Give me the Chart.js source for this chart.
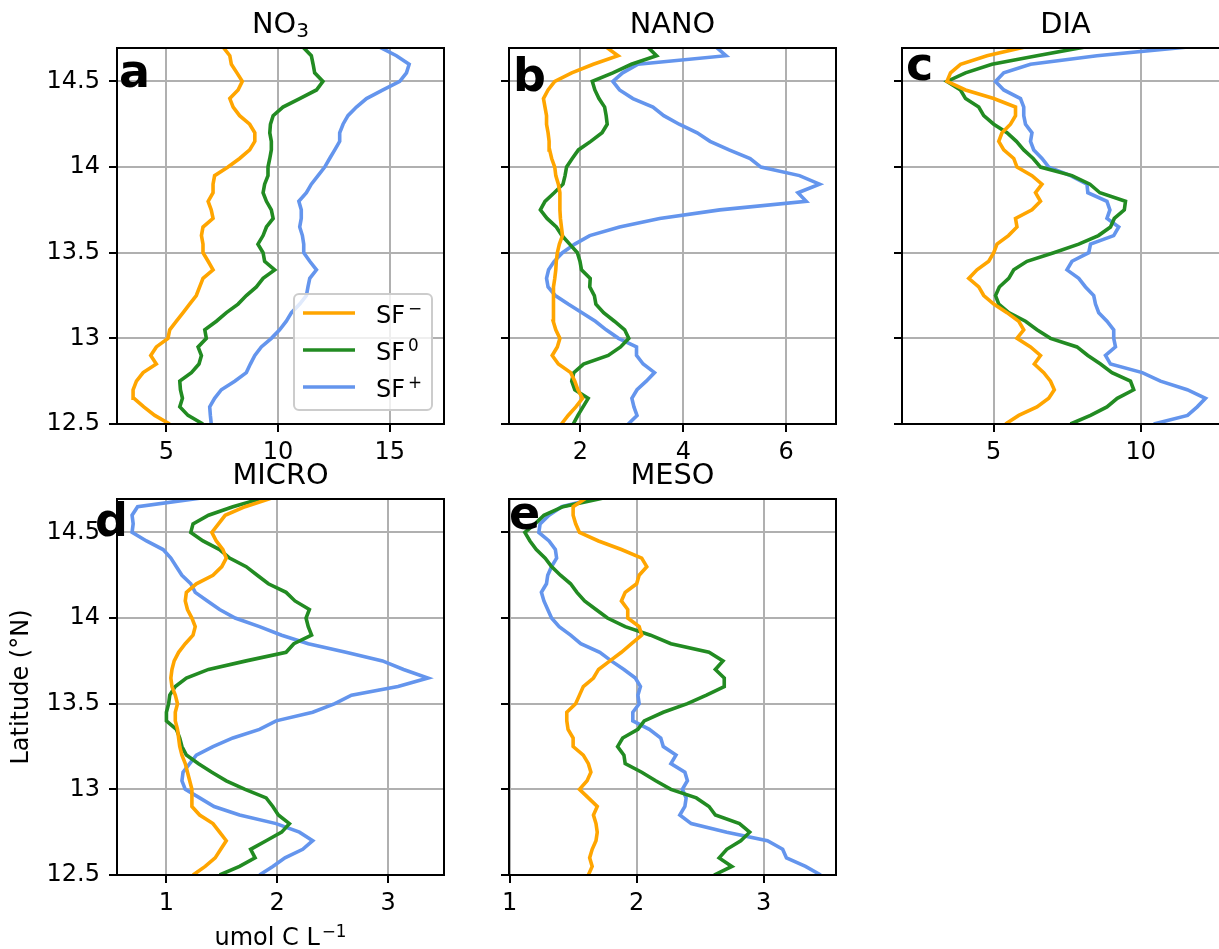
<!DOCTYPE html>
<html>
<head>
<meta charset="utf-8">
<title>Latitude profiles</title>
<script src="https://cdn.jsdelivr.net/npm/chart.js@4.4.0/dist/chart.umd.min.js"></script>
<style>
  html, body { margin: 0; padding: 0; background: #fff; overflow: hidden; }
  #fig { position: relative; width: 1219px; height: 949px; overflow: hidden; }
  .panel { position: absolute; width: 480px; height: 500px; }
</style>
</head>
<body>
<div id="fig">
  <div class="panel" style="left:0;top:0"><canvas id="pa" width="480" height="500"></canvas></div>
  <div class="panel" style="left:392px;top:0"><canvas id="pb" width="480" height="500"></canvas></div>
  <div class="panel" style="left:785px;top:0"><canvas id="pc" width="480" height="500"></canvas></div>
  <div class="panel" style="left:0;top:451px"><canvas id="pd" width="480" height="500"></canvas></div>
  <div class="panel" style="left:392px;top:451px"><canvas id="pe" width="480" height="500"></canvas></div>
</div>
<script>
/* ============================
   DATA
============================ */
const latitude = [12.50, 12.55, 12.60, 12.65, 12.70, 12.75, 12.80, 12.85, 12.90, 12.95,
                  13.00, 13.05, 13.10, 13.15, 13.20, 13.25, 13.30, 13.35, 13.40, 13.45,
                  13.50, 13.55, 13.60, 13.65, 13.70, 13.75, 13.80, 13.85, 13.90, 13.95,
                  14.00, 14.05, 14.10, 14.15, 14.20, 14.25, 14.30, 14.35, 14.40, 14.45,
                  14.50, 14.55, 14.60, 14.65, 14.70];

const scenarioBase = 'SF';
const scenarioSup = ['\u2212', '0', '+'];
const scenarioColors = ['#ffa500', '#228b22', '#6495ed'];

// NO3
const no3Minus = [5.15, 4.48, 3.99, 3.55, 3.51, 3.66, 3.96, 4.55, 4.30, 4.55,
                  5.07, 5.15, 5.45, 5.75, 6.04, 6.34, 6.49, 6.64, 7.09, 6.87,
                  6.64, 6.64, 6.57, 6.64, 7.09, 7.01, 6.87, 7.09, 7.09, 7.16,
                  7.76, 8.28, 8.73, 8.96, 8.96, 8.73, 8.28, 7.99, 7.84, 8.21,
                  8.40, 8.16, 7.91, 7.84, 7.54];
const no3Zero = [6.64, 5.97, 5.60, 5.72, 5.63, 5.60, 6.12, 6.46, 6.57, 6.42,
                 6.79, 6.72, 7.24, 7.69, 8.21, 8.58, 9.03, 9.33, 9.85, 9.40,
                 9.33, 9.10, 9.33, 9.48, 9.78, 9.70, 9.48, 9.33, 9.40, 9.55,
                 9.55, 9.63, 9.70, 9.70, 9.63, 9.66, 9.78, 10.22, 10.97, 11.72,
                 12.01, 11.64, 11.57, 11.49, 11.12];
const no3Plus = [7.01, 6.97, 6.94, 7.16, 7.46, 8.06, 8.58, 8.76, 8.96, 9.25,
                 9.70, 10.07, 10.37, 10.60, 10.97, 11.27, 11.34, 11.42, 11.72, 11.42,
                 11.15, 11.15, 11.09, 10.97, 11.04, 11.04, 10.93, 11.27, 11.49, 11.79,
                 12.09, 12.31, 12.54, 12.76, 12.76, 12.91, 13.13, 13.51, 13.96, 14.70,
                 15.45, 15.75, 15.87, 15.30, 14.55];

// NANO
const nanoMinus = [1.63, 1.76, 1.91, 2.04, 1.95, 1.89, 1.81, 1.57, 1.45, 1.55,
                   1.60, 1.52, 1.47, 1.47, 1.47, 1.48, 1.48, 1.50, 1.52, 1.53,
                   1.55, 1.59, 1.65, 1.63, 1.61, 1.60, 1.60, 1.60, 1.57, 1.52,
                   1.50, 1.44, 1.40, 1.39, 1.37, 1.34, 1.34, 1.31, 1.28, 1.37,
                   1.50, 1.83, 2.25, 2.73, 2.50];
const nanoZero = [1.86, 1.95, 2.05, 2.15, 1.89, 1.83, 1.87, 2.06, 2.54, 2.78,
                  2.94, 2.86, 2.66, 2.45, 2.30, 2.27, 2.18, 2.19, 2.02, 1.99,
                  1.94, 1.79, 1.64, 1.53, 1.35, 1.22, 1.31, 1.49, 1.66, 1.70,
                  1.73, 1.84, 1.96, 2.20, 2.42, 2.52, 2.50, 2.47, 2.36, 2.28,
                  2.23, 2.63, 2.99, 3.48, 3.31];
const nanoPlus = [2.93, 3.10, 3.04, 3.00, 3.10, 3.28, 3.44, 3.22, 3.09, 3.09,
                  2.74, 2.50, 2.29, 2.03, 1.76, 1.51, 1.37, 1.34, 1.38, 1.49,
                  1.65, 1.89, 2.18, 2.76, 3.54, 4.71, 6.39, 6.23, 6.65, 6.26,
                  5.51, 5.30, 4.89, 4.52, 4.27, 3.92, 3.62, 3.41, 3.02, 2.76,
                  2.63, 2.82, 3.12, 4.83, 4.64];

// DIA
const diaMinus = [5.40, 5.85, 6.47, 6.87, 7.06, 6.93, 6.70, 6.38, 6.59, 6.25,
                  5.79, 6.02, 5.85, 5.45, 5.00, 4.66, 4.49, 4.15, 4.43, 4.83,
                  5.00, 5.11, 5.50, 5.79, 5.74, 6.30, 6.59, 6.42, 6.64, 6.30,
                  5.79, 5.68, 5.34, 5.17, 5.28, 5.57, 5.74, 5.74, 5.00, 4.04,
                  3.41, 3.53, 3.87, 4.77, 6.02];
const diaZero = [7.61, 8.29, 8.85, 9.20, 9.76, 9.65, 9.02, 8.63, 8.20, 7.83,
                 6.93, 6.47, 6.08, 5.51, 5.17, 5.06, 5.19, 5.51, 5.68, 6.13,
                 7.04, 7.89, 8.56, 8.97, 9.10, 9.44, 9.48, 8.61, 8.27, 7.66,
                 6.59, 6.34, 6.02, 5.77, 5.45, 5.00, 4.66, 4.49, 4.04, 3.87,
                 3.41, 4.04, 4.94, 6.47, 8.06];
const diaPlus = [10.44, 11.59, 11.92, 12.20, 11.58, 10.67, 10.05, 8.97, 8.80, 9.14,
                 9.08, 9.08, 8.85, 8.57, 8.46, 8.40, 8.12, 7.89, 7.49, 7.66,
                 8.23, 8.29, 9.08, 9.25, 8.85, 8.95, 8.85, 8.20, 8.17, 7.61,
                 6.87, 6.64, 6.36, 6.25, 6.30, 6.08, 6.02, 6.02, 5.91, 5.34,
                 5.06, 5.34, 6.25, 8.51, 11.52];

// MICRO
const microMinus = [1.24, 1.35, 1.44, 1.49, 1.54, 1.48, 1.42, 1.30, 1.23, 1.23,
                    1.23, 1.21, 1.19, 1.17, 1.14, 1.12, 1.11, 1.10, 1.08, 1.08,
                    1.10, 1.08, 1.05, 1.04, 1.05, 1.07, 1.11, 1.17, 1.24, 1.26,
                    1.23, 1.19, 1.17, 1.18, 1.27, 1.42, 1.50, 1.54, 1.51, 1.45,
                    1.41, 1.47, 1.53, 1.71, 1.95];
const microZero = [1.48, 1.66, 1.80, 1.76, 1.90, 2.04, 2.11, 2.01, 1.96, 1.90,
                   1.71, 1.54, 1.41, 1.29, 1.18, 1.14, 1.12, 1.09, 1.00, 1.00,
                   1.02, 1.03, 1.08, 1.18, 1.38, 1.72, 2.08, 2.15, 2.31, 2.28,
                   2.26, 2.29, 2.16, 2.08, 1.92, 1.82, 1.72, 1.57, 1.48, 1.33,
                   1.22, 1.24, 1.38, 1.60, 1.87];
const microPlus = [1.84, 1.96, 2.07, 2.23, 2.32, 2.20, 1.99, 1.66, 1.43, 1.30,
                   1.17, 1.14, 1.15, 1.21, 1.27, 1.42, 1.60, 1.84, 1.99, 2.32,
                   2.52, 2.67, 3.09, 3.36, 3.14, 2.95, 2.62, 2.28, 2.04, 1.84,
                   1.62, 1.48, 1.37, 1.26, 1.22, 1.14, 1.09, 1.04, 0.97, 0.82,
                   0.69, 0.70, 0.69, 0.74, 1.30];

// MESO
const mesoMinus = [1.62, 1.65, 1.63, 1.65, 1.68, 1.69, 1.68, 1.66, 1.69, 1.62,
                   1.55, 1.61, 1.64, 1.62, 1.58, 1.50, 1.50, 1.46, 1.45, 1.45,
                   1.52, 1.55, 1.58, 1.66, 1.70, 1.79, 1.88, 1.96, 2.04, 2.02,
                   1.93, 1.93, 1.88, 1.91, 2.00, 2.02, 2.08, 2.04, 1.88, 1.70,
                   1.55, 1.52, 1.50, 1.50, 1.60];
const mesoZero = [2.61, 2.75, 2.65, 2.71, 2.82, 2.89, 2.81, 2.62, 2.57, 2.47,
                  2.27, 2.15, 2.04, 1.91, 1.90, 1.85, 1.89, 2.01, 2.06, 2.21,
                  2.40, 2.55, 2.69, 2.69, 2.62, 2.68, 2.57, 2.27, 2.11, 1.91,
                  1.77, 1.68, 1.59, 1.53, 1.48, 1.40, 1.33, 1.28, 1.21, 1.16,
                  1.12, 1.20, 1.27, 1.42, 1.73];
const mesoPlus = [3.45, 3.33, 3.18, 3.15, 3.03, 2.71, 2.43, 2.34, 2.38, 2.39,
                  2.36, 2.40, 2.38, 2.27, 2.31, 2.21, 2.19, 2.10, 1.97, 1.97,
                  2.02, 2.01, 2.03, 1.99, 1.90, 1.80, 1.71, 1.56, 1.48, 1.39,
                  1.33, 1.30, 1.27, 1.25, 1.29, 1.30, 1.33, 1.37, 1.36, 1.31,
                  1.23, 1.24, 1.31, 1.41, 1.68];

/* ============================
   PANEL SETUP
============================ */
const panels = [
  { canvas: 'pa', title: 'NO', titleSub: '3', letter: 'a', letterAt: [121, 87],
    series: [no3Minus, no3Zero, no3Plus], xMin: 2.79, xMax: 17.43, xStep: 5,
    yLabels: true, legend: true },
  { canvas: 'pb', title: 'NANO', letter: 'b', letterAt: [123, 91],
    series: [nanoMinus, nanoZero, nanoPlus], xMin: 0.61, xMax: 6.97, xStep: 2 },
  { canvas: 'pc', title: 'DIA', letter: 'c', letterAt: [123, 80],
    series: [diaMinus, diaZero, diaPlus], xMin: 1.88, xMax: 13.0, xStep: 5 },
  { canvas: 'pd', title: 'MICRO', letter: 'd', letterAt: [97, 85],
    series: [microMinus, microZero, microPlus], xMin: 0.554, xMax: 3.505, xStep: 1,
    yLabels: true, yTitle: 'Latitude (\u00B0N)', xTitle: 'umol C L', xTitleSup: '\u22121' },
  { canvas: 'pe', title: 'MESO', letter: 'e', letterAt: [119, 78],
    series: [mesoMinus, mesoZero, mesoPlus], xMin: 0.995, xMax: 3.57, xStep: 1 }
];

const FONT = "'DejaVu Sans', sans-serif";
Chart.defaults.font.family = FONT;
Chart.defaults.color = '#000';

// text with an optional raised / lowered small part, centred on cx
function drawRichText(ctx, cx, baseY, size, main, small, shift, gap) {
  ctx.font = size + 'px ' + FONT;
  const w1 = ctx.measureText(main).width;
  let w2 = 0;
  const smallSize = size * 0.7;
  if (small) {
    ctx.font = smallSize + 'px ' + FONT;
    w2 = ctx.measureText(small).width + gap;
  }
  const x0 = cx - (w1 + w2) / 2;
  ctx.font = size + 'px ' + FONT;
  ctx.fillText(main, x0, baseY);
  if (small) {
    ctx.font = smallSize + 'px ' + FONT;
    ctx.fillText(small, x0 + w1 + gap, baseY + shift);
  }
}

/* ============================
   FRAME, TITLES, LETTER & LEGEND
============================ */
const panelDecor = {
  id: 'panelDecor',
  afterDatasetsDraw(chart, args, opts) {
    const { ctx, chartArea: ca } = chart;
    const cx = (ca.left + ca.right) / 2;
    ctx.save();

    // full box like matplotlib spines
    ctx.strokeStyle = '#000';
    ctx.lineWidth = 2;
    ctx.strokeRect(ca.left, ca.top, ca.right - ca.left, ca.bottom - ca.top);

    ctx.fillStyle = '#000';
    ctx.textAlign = 'left';
    ctx.textBaseline = 'alphabetic';

    // panel title
    drawRichText(ctx, cx, ca.top - 15.3, 28.8, opts.title, opts.titleSub, 4, 0);

    // x axis title
    if (opts.xTitle) {
      drawRichText(ctx, cx, ca.bottom + 70, 24, opts.xTitle, opts.xTitleSup, -8.5, 2);
    }

    // legend
    if (opts.legend) {
      const bx = 294, by = 294, bw = 138, bh = 116;
      ctx.beginPath();
      ctx.roundRect(bx, by, bw, bh, 5);
      ctx.fillStyle = 'rgba(255,255,255,0.8)';
      ctx.fill();
      ctx.strokeStyle = '#cccccc';
      ctx.lineWidth = 2;
      ctx.stroke();

      const rows = [313, 350, 387];
      scenarioColors.forEach((c, i) => {
        ctx.strokeStyle = c;
        ctx.lineWidth = 3.6;
        ctx.beginPath();
        ctx.moveTo(303, rows[i]);
        ctx.lineTo(355, rows[i]);
        ctx.stroke();

        ctx.fillStyle = '#000';
        ctx.font = '24px ' + FONT;
        const base = rows[i] + 9.5;
        ctx.fillText(scenarioBase, 376, base);
        const w = ctx.measureText(scenarioBase).width;
        ctx.font = '16.8px ' + FONT;
        ctx.fillText(scenarioSup[i], 376 + w + 3, base - 9);
      });
    }

    // panel letter
    ctx.fillStyle = '#000';
    ctx.font = 'bold 46px ' + FONT;
    ctx.fillText(opts.letter, opts.letterAt[0] - 2, opts.letterAt[1]);

    ctx.restore();
  }
};

/* ============================
   BUILD CHARTS
============================ */
function buildChart(p) {
  const datasets = p.series.map((vals, i) => ({
    label: scenarioBase + scenarioSup[i],
    data: latitude.map((lat, k) => ({ x: vals[k], y: lat })),
    borderColor: scenarioColors[i],
    borderWidth: 3.6,
    pointRadius: 0,
    showLine: true,
    tension: 0,
    clip: 0
  }));

  const gridStyle = {
    color: '#b0b0b0',
    lineWidth: 2,
    tickColor: '#000',
    tickWidth: 2,
    tickLength: 8,
    drawTicks: true
  };

  new Chart(document.getElementById(p.canvas), {
    type: 'scatter',
    data: { datasets },
    options: {
      responsive: false,
      animation: false,
      events: [],
      layout: { padding: { left: 0, right: 36, top: 48, bottom: 0 } },
      plugins: {
        legend: { display: false },
        tooltip: { enabled: false },
        title: { display: false },
        panelDecor: {
          letter: p.letter, letterAt: p.letterAt, legend: !!p.legend,
          title: p.title, titleSub: p.titleSub || '',
          xTitle: p.xTitle || '', xTitleSup: p.xTitleSup || ''
        }
      },
      scales: {
        x: {
          type: 'linear',
          min: p.xMin,
          max: p.xMax,
          afterFit: s => { s.height = 76; },
          grid: gridStyle,
          border: { display: true, color: '#000', width: 2 },
          ticks: {
            stepSize: p.xStep,
            includeBounds: false,
            padding: 6,
            font: { size: 24, family: FONT },
            color: '#000',
            maxRotation: 0,
            callback: v => String(v)
          }
        },
        y: {
          type: 'linear',
          min: 12.5,
          max: 14.695,
          afterFit: s => { s.width = 117; },
          grid: gridStyle,
          border: { display: true, color: '#000', width: 2 },
          ticks: {
            display: !!p.yLabels,
            stepSize: 0.5,
            includeBounds: false,
            padding: 9,
            font: { size: 24, family: FONT },
            color: '#000',
            callback: v => String(v)
          },
          title: {
            display: !!p.yTitle,
            text: p.yTitle || '',
            font: { size: 24, family: FONT },
            color: '#000',
            padding: { top: 7, bottom: 0 }
          }
        }
      }
    },
    plugins: [panelDecor]
  });
}

panels.forEach(buildChart);
</script>
</body>
</html>
